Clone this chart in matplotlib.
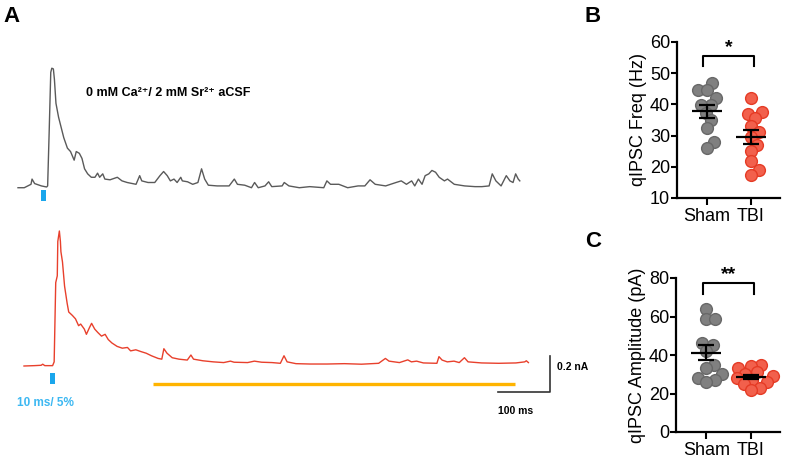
#!/usr/bin/env python3
import numpy as np
import matplotlib
matplotlib.use('Agg')
from matplotlib import pyplot as plt

plt.rcParams['font.family'] = ['Liberation Sans', 'DejaVu Sans']

# --- panel A: example traces, time in ms from trace start, current in pA above baseline
sham_t = [0, 12, 25, 27, 32, 45, 55, 57, 60, 63, 65, 68, 70, 73, 78, 83, 88, 95, 101, 108,
          112, 118, 123, 128, 134, 141, 148, 153, 157, 163, 167, 177, 191, 200, 210, 227, 234,
          238, 250, 263, 273, 280, 287, 293, 300, 306, 313, 316, 326, 336, 346, 353, 359, 366,
          383, 406, 416, 422, 436, 449, 455, 462, 475, 482, 488, 508, 512, 521, 541, 561, 588,
          594, 601, 617, 634, 654, 667, 677, 687, 707, 727, 737, 747, 757, 763, 770, 777, 783,
          790, 796, 803, 810, 820, 826, 839, 859, 879, 892, 906, 912, 919, 929, 939, 946, 952,
          957, 962, 965]
sham_i = [-4, -4, 15, 44, 19, 6, 0, 6, 312, 637, 660, 656, 599, 465, 388, 331, 274, 216, 197, 149,
          197, 187, 159, 101, 73, 54, 54, 77, 54, 73, 44, 40, 54, 34, 25, 15, 63,
          34, 25, 25, 63, 86, 63, 34, 44, 25, 54, 34, 29, 15, 25, 101, 44, 10,
          6, 6, 44, 15, 10, -4, 25, -4, 6, 29, 2, 6, 25, 6, -4, 2, -4,
          34, 15, 15, -4, 6, 6, 40, 15, 6, 25, 34, 15, 34, 6, 44, 15, 63,
          73, 92, 82, 54, 34, 44, 15, 6, 2, 2, 6, 73, 34, 6, 63, 34, 25,
          73, 44, 34]

tbi_t = [0, 20, 33, 36, 40, 55, 58, 61, 64, 65, 68, 70, 71, 74, 78, 83, 86, 93, 99, 105,
         109, 116, 120, 126, 130, 136, 142, 149, 156, 162, 169, 179, 189, 199, 205, 215, 225,
         235, 245, 258, 265, 269, 275, 285, 298, 314, 321, 326, 344, 364, 384, 397, 404, 430,
         443, 457, 477, 493, 500, 506, 523, 550, 583, 616, 649, 682, 695, 702, 722, 738, 745,
         755, 768, 794, 798, 804, 814, 827, 837, 847, 854, 880, 913, 946, 963, 966, 970]
tbi_i = [0, 2, 4, 10, 2, 2, 23, 463, 501, 692, 750, 692, 635, 578, 444, 348, 300, 281, 262, 224,
         233, 205, 176, 214, 237, 205, 186, 166, 176, 147, 128, 109, 99, 103, 84, 90, 80,
         71, 57, 42, 38, 96, 71, 46, 38, 33, 61, 38, 29, 23, 19, 27, 21, 19,
         27, 21, 19, 15, 57, 23, 13, 11, 11, 13, 10, 15, 42, 27, 19, 34, 23,
         27, 17, 15, 52, 33, 23, 27, 19, 46, 23, 17, 15, 17, 23, 29, 19]

stim_on = [44, 50]      # ms after trace start
stim_dur = 10           # ms
window = [248, 944]     # analysis window, ms (TBI trace)
scale_ms = 100
scale_pa = 200

# --- panels B and C
groups = ['Sham', 'TBI']
freq_sham = [46.8, 44.7, 44.5, 42, 39.7, 39.7, 37.3, 35, 32.5, 27.9, 26]
freq_tbi = [42, 37.5, 37, 35.5, 33, 31, 29.5, 27, 25, 22, 19, 17.5]
amp_sham = [64, 58.5, 58.5, 46, 45, 42, 35, 33, 30, 28, 27, 26]
amp_tbi = [35, 34.5, 33, 31, 30, 29, 28, 27, 26, 25, 23, 22]

GREY, GREY_E = '#808080', '#686868'
RED, RED_E = '#f2604c', '#e53b25'
BLUE = '#1aa6ec'

W, H = 785, 463
fig = plt.figure(figsize=(W / 100, H / 100), dpi=100)

# trace panel uses one axes over whole figure, scaled so 52 px = 100 ms, 36 px = 200 pA
MS_PX = 100 / 52.0
PA_PX = 200 / 36.0
axA = fig.add_axes([0, 0, 1, 1])
axA.set_xlim(0, W * MS_PX)
axA.set_ylim(0, H * PA_PX)
axA.axis('off')

def pt(x, y):
    return x * MS_PX, (H - y) * PA_PX

x0s, b0s = pt(18, 187)
x0t, b0t = pt(24, 366)
axA.plot(np.array(sham_t) + x0s, np.array(sham_i) + b0s, color='#5a5a5a', lw=1.0)
axA.plot(np.array(tbi_t) + x0t, np.array(tbi_i) + b0t, color='#e8402c', lw=1.0)

# light pulses
axA.bar(x0s + stim_on[0], 11 * PA_PX, width=stim_dur, bottom=b0s - 14 * PA_PX,
        align='edge', color=BLUE)
axA.bar(x0t + stim_on[1], 11 * PA_PX, width=stim_dur, bottom=b0t - 18 * PA_PX,
        align='edge', color=BLUE)
axA.plot([x0t + window[0], x0t + window[1]], [b0t - 18 * PA_PX] * 2, color='#ffb400', lw=2.4,
         solid_capstyle='butt')

# scale bar
sx, sy = pt(498, 392)
axA.plot([sx, sx + scale_ms, sx + scale_ms], [sy, sy, sy + scale_pa], color='#333333', lw=1.2)
axA.text(*pt(557, 367), '0.2 nA', fontsize=7.5, fontweight='bold', va='center')
axA.text(*pt(498, 411), '100 ms', fontsize=7.5, fontweight='bold', va='center')
axA.text(*pt(17, 403), '10 ms/ 5%', fontsize=8.5, fontweight='bold', va='center', color='#3db8f2')
axA.text(*pt(86, 93), '0 mM Ca\u00b2\u207a/ 2 mM Sr\u00b2\u207a aCSF', fontsize=9,
         fontweight='bold', va='center')

fig.text(3 / W, 1 - 6 / H, 'A', fontsize=16, fontweight='bold', va='top')
fig.text(585 / W, 1 - 6 / H, 'B', fontsize=16, fontweight='bold', va='top')
fig.text(585 / W, 1 - 231 / H, 'C', fontsize=16, fontweight='bold', va='top')


def swarm(vals, center, px_x, px_y, d=9.0):
    # beeswarm: put each point at the free spot nearest the centre line
    vals = np.asarray(vals, float)
    xs = np.zeros(len(vals))
    placed = []
    for i in np.argsort(vals):
        y = vals[i] * px_y
        cands = [0.0]
        for a, b in placed:
            dy = abs(y - b)
            if dy < d:
                dx = np.sqrt(d * d - dy * dy)
                cands += [a + dx, a - dx]
        cands.sort(key=abs)
        for off in cands:
            if all((off - a) ** 2 + (y - b) ** 2 >= d * d - 1e-6 for a, b in placed):
                break
        placed.append((off, y))
        xs[i] = center + off / px_x
    return xs


def dot_panel(ax, sham, tbi, ylim, yticks, ylabel, bracket, stars, px_y):
    px_x = 103 / 2.34
    for k, (v, fc, ec) in enumerate([(sham, GREY, GREY_E), (tbi, RED, RED_E)]):
        xs = swarm(v, k, px_x, px_y)
        ax.scatter(xs, v, s=72, facecolor=fc, edgecolor=ec, linewidth=1.0, zorder=2, clip_on=False)
        m = np.mean(v)
        sem = np.std(v, ddof=1) / np.sqrt(len(v))
        ax.hlines(m, k - 0.34, k + 0.34, color='black', lw=1.6, zorder=3)
        ax.errorbar(k, m, yerr=sem, color='black', lw=1.6, capsize=5.5, capthick=1.6, zorder=3)
    ax.set_xlim(-0.68, 1.66)
    ax.set_ylim(*ylim)
    ax.set_yticks(yticks)
    ax.set_xticks([0, 1])
    ax.set_xticklabels(groups, fontsize=13)
    ax.tick_params(axis='y', labelsize=13, width=1.5, length=4, pad=1)
    ax.tick_params(axis='x', width=1.5, length=5, pad=2)
    for s in ['top', 'right']:
        ax.spines[s].set_visible(False)
    for s in ['left', 'bottom']:
        ax.spines[s].set_linewidth(1.6)
    ax.set_ylabel(ylabel, fontsize=13, labelpad=2)
    lo, hi = bracket
    ax.plot([-0.08, -0.08, 1.08, 1.08], [lo, hi, hi, lo], color='black', lw=1.5, clip_on=False)
    ax.text(0.5, hi, stars, ha='center', va='bottom', fontsize=14, fontweight='bold')


axB = fig.add_axes([677 / W, (H - 198) / H, 103 / W, 156 / H])
dot_panel(axB, freq_sham, freq_tbi, (10, 60), [10, 20, 30, 40, 50, 60], 'qIPSC Freq (Hz)',
          (52.2, 55.4), '*', 156 / 50)
axC = fig.add_axes([676 / W, (H - 432) / H, 104 / W, 154 / H])
dot_panel(axC, amp_sham, amp_tbi, (0, 80), [0, 20, 40, 60, 80], 'qIPSC Amplitude (pA)',
          (71.7, 77.4), '**', 154 / 80)

fig.savefig('out.png', dpi=100)
